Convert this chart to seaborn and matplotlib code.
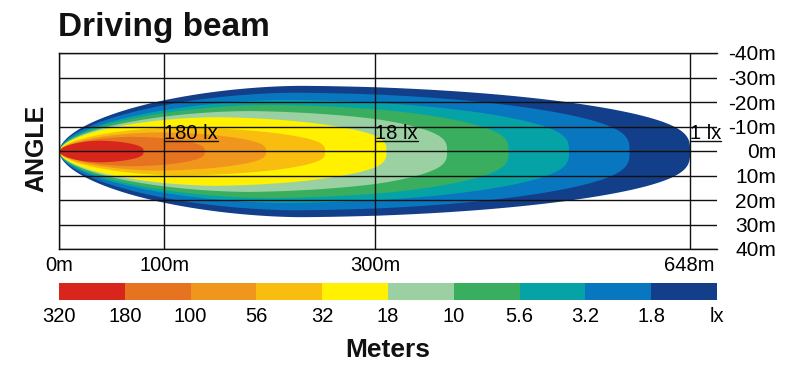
import numpy as np
import matplotlib
matplotlib.use("Agg")
import matplotlib.pyplot as plt
import seaborn as sns
from matplotlib.colors import ListedColormap

# ---------------- data ----------------
lux_labels = ["320", "180", "100", "56", "32", "18", "10", "5.6", "3.2", "1.8", "lx"]
band_colors = ["#D9261C", "#E6731F", "#F0961C", "#F8BD0E", "#FFF100",
               "#9BD0A2", "#3AAE5F", "#06A3A6", "#0877BF", "#133F8A"]
# outer edge of each colour band (innermost red -> outermost dark blue)
reach_m = [80, 138, 196, 252, 312, 379, 447, 514, 581, 648]
halfwidth_m = [4.4, 6.0, 7.8, 9.8, 14.0, 16.5, 19.0, 21.0, 24.0, 26.8]
widest_at_m = [39, 70, 95, 115, 150, 180, 200, 215, 225, 230]

x_ticks_m = [0, 100, 300, 648]
x_tick_labels = ["0m", "100m", "300m", "648m"]
y_ticks_m = [-40, -30, -20, -10, 0, 10, 20, 30, 40]
y_tick_labels = ["-40m", "-30m", "-20m", "-10m", "0m", "10m", "20m", "30m", "40m"]

marker_labels = ["180 lx", "18 lx", "1 lx"]
marker_at_m = [100, 300, 648]

# ---------------- style ----------------
sns.set_style("white")
plt.rcParams["font.family"] = ["Liberation Sans", "DejaVu Sans"]
for key in ["text.color", "axes.labelcolor", "xtick.color", "ytick.color"]:
    plt.rcParams[key] = "black"

W, H = 798, 369
fig = plt.figure(figsize=(W / 100, H / 100), dpi=100)

# schematic distance axis: linear to 300 m, compressed beyond
SPLIT = 300.0
SQUEEZE = 298.0 / 348.0


def fwd(x):
    x = np.asarray(x, dtype=float)
    return np.where(x <= SPLIT, x, SPLIT + (x - SPLIT) * SQUEEZE)


def inv(u):
    u = np.asarray(u, dtype=float)
    return np.where(u <= SPLIT, u, SPLIT + (u - SPLIT) / SQUEEZE)


ax = fig.add_axes([58.7 / W, 1 - 249 / H, (717 - 58.7) / W, (249 - 53) / H])
ax.set_xscale("function", functions=(fwd, inv))


def beam_profile(reach, width, widest, n=300, p_nose=1.8, p_tail=3.2, taper=0.3):
    phi = np.linspace(0, np.pi / 2, n)
    c, s = np.cos(phi), np.sin(phi)
    # nose: superellipse quadrant from the lamp to the widest point
    xn = widest * (1 - c ** (2 / p_nose))
    hn = width * s ** (2 / p_nose)
    # tail: smoothly tapered superellipse quadrant to the reach
    u = s ** (2 / p_tail)
    xt = widest + (reach - widest) * u
    ht = width * c ** (2 / p_tail) * (1 - taper * u ** 1.5)
    return np.concatenate([xn, xt[1:]]), np.concatenate([hn, ht[1:]])


for r, w, c, col in reversed(list(zip(reach_m, halfwidth_m, widest_at_m, band_colors))):
    xs, hs = beam_profile(r, w, c)
    ax.fill_between(xs, -hs, hs, color=col, lw=0, zorder=1)

xmax = float(inv(624.0))
ax.set_xlim(0, xmax)
ax.set_ylim(40, -40)
ax.set_xticks(x_ticks_m)
ax.set_xticklabels(x_tick_labels)
ax.set_yticks(y_ticks_m)
ax.set_yticklabels(y_tick_labels)
ax.yaxis.tick_right()
ax.set_axisbelow(False)
ax.grid(True, color="#111111", lw=1.0)
ax.tick_params(axis="both", length=0, labelsize=14.5, colors="black")
ax.tick_params(axis="x", pad=5)
ax.tick_params(axis="y", pad=42.5, labelsize=15)
for lbl in ax.get_yticklabels():
    lbl.set_ha("right")
for side in ["top", "bottom", "left"]:
    ax.spines[side].set_visible(True)
    ax.spines[side].set_color("#111111")
    ax.spines[side].set_linewidth(1.0)
ax.spines["right"].set_visible(False)

# lux markers with underline
texts = []
for lab, xm in zip(marker_labels, marker_at_m):
    t = ax.text(xm, -4.7, lab, fontsize=14.5, ha="left", va="baseline", zorder=5, clip_on=False)
    texts.append((t, xm))

fig.canvas.draw()
renderer = fig.canvas.get_renderer()
for t, xm in texts:
    bb = t.get_window_extent(renderer)
    x1 = ax.transData.inverted().transform((bb.x1, bb.y0))[0]
    ax.plot([xm, x1], [-3.9, -3.9], color="#111111", lw=1.0, zorder=5, clip_on=False)

# colour scale bar
cax = fig.add_axes([59 / W, 1 - 300 / H, (717 - 59) / W, 17 / H])
sns.heatmap(np.arange(len(band_colors)).reshape(1, -1), cmap=ListedColormap(band_colors),
            vmin=-0.5, vmax=len(band_colors) - 0.5, cbar=False, ax=cax, linewidths=0)
cax.set_xticks(np.arange(len(lux_labels)))
cax.set_xticklabels(lux_labels, rotation=0)
cax.set_yticks([])
cax.tick_params(axis="x", length=0, labelsize=14.5, pad=5, colors="black")

# titles
fig.text(58 / W, 1 - 36 / H, "Driving beam", fontsize=24, fontweight="bold",
         ha="left", va="baseline", color="#111111")
fig.text(36 / W, 1 - 148 / H, "ANGLE", fontsize=18, fontweight="bold",
         rotation=90, ha="center", va="center", color="#111111")
fig.text(388 / W, 1 - 350 / H, "Meters", fontsize=19, fontweight="bold",
         ha="center", va="center", color="#111111")

fig.savefig("out.png", dpi=100)
